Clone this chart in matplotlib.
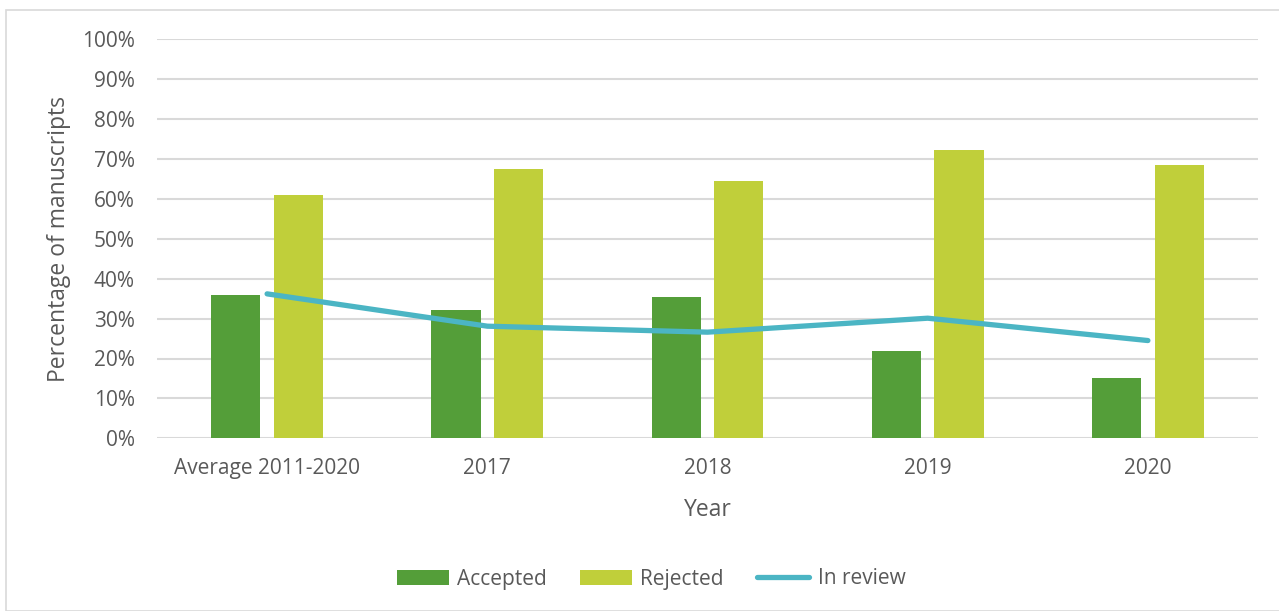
import matplotlib.pyplot as plt
import matplotlib.patches as mpatches
import numpy as np

# data
categories = ["Average 2011-2020", "2017", "2018", "2019", "2020"]
accepted = [35.8, 32.2, 35.3, 21.8, 15.0]
rejected = [60.9, 67.6, 64.5, 72.3, 68.6]
in_review = [36.2, 28.1, 26.6, 30.1, 24.5]

greenDark = "#549E39"
greenLight = "#C0CF3A"
lineColor = "#4BB5C4"
textColor = "#595959"

plt.rcParams['font.family'] = ['Open Sans', 'DejaVu Sans']

fig = plt.figure(figsize=(12.79, 6.11), dpi=100)
ax = fig.add_axes([157/1279, 1 - 438.3/611, 1101/1279, 399/611])

# outer chart frame
frame = mpatches.Rectangle((6/1279, 0), 1.2, 1 - 10/611, transform=fig.transFigure,
                           fill=False, edgecolor="#d9d9d9", linewidth=1.2)
fig.patches.append(frame)

x = np.arange(len(categories))
barW = 0.223
offset = 0.142
ax.bar(x - offset, accepted, barW, color=greenDark, label="Accepted", zorder=2)
ax.bar(x + offset, rejected, barW, color=greenLight, label="Rejected", zorder=2)
ax.plot(x, in_review, color=lineColor, linewidth=3.8, solid_capstyle="round",
        solid_joinstyle="round", label="In review", zorder=3)

ax.set_xlim(-0.5, len(categories) - 0.5)
ax.set_ylim(0, 100)
ax.set_yticks(np.arange(0, 101, 10))
ax.set_yticklabels([str(v) + "%" for v in range(0, 101, 10)])
ax.set_xticks(x)
ax.set_xticklabels(categories)
ax.yaxis.grid(True, color="#d9d9d9", linewidth=1.5, zorder=0)
ax.set_axisbelow(True)
for s in ax.spines.values():
    s.set_visible(False)
ax.tick_params(axis="both", length=0, labelsize=15, labelcolor=textColor)
ax.tick_params(axis="y", pad=16)
ax.tick_params(axis="x", pad=14)

ax.set_ylabel("Percentage of manuscripts", fontsize=16.5, color=textColor, labelpad=8)
ax.set_xlabel("Year", fontsize=16.5, color=textColor, labelpad=14)

handles, labels = ax.get_legend_handles_labels()
order = [1, 2, 0]
fig.legend([handles[i] for i in order], [labels[i] for i in order],
           loc="center", bbox_to_anchor=(651/1279, 1 - 579/611), ncol=3,
           frameon=False, fontsize=15, labelcolor=textColor,
           handlelength=2.5, handleheight=0.7, handletextpad=0.4, columnspacing=1.6)

fig.savefig("out.png", dpi=100)
